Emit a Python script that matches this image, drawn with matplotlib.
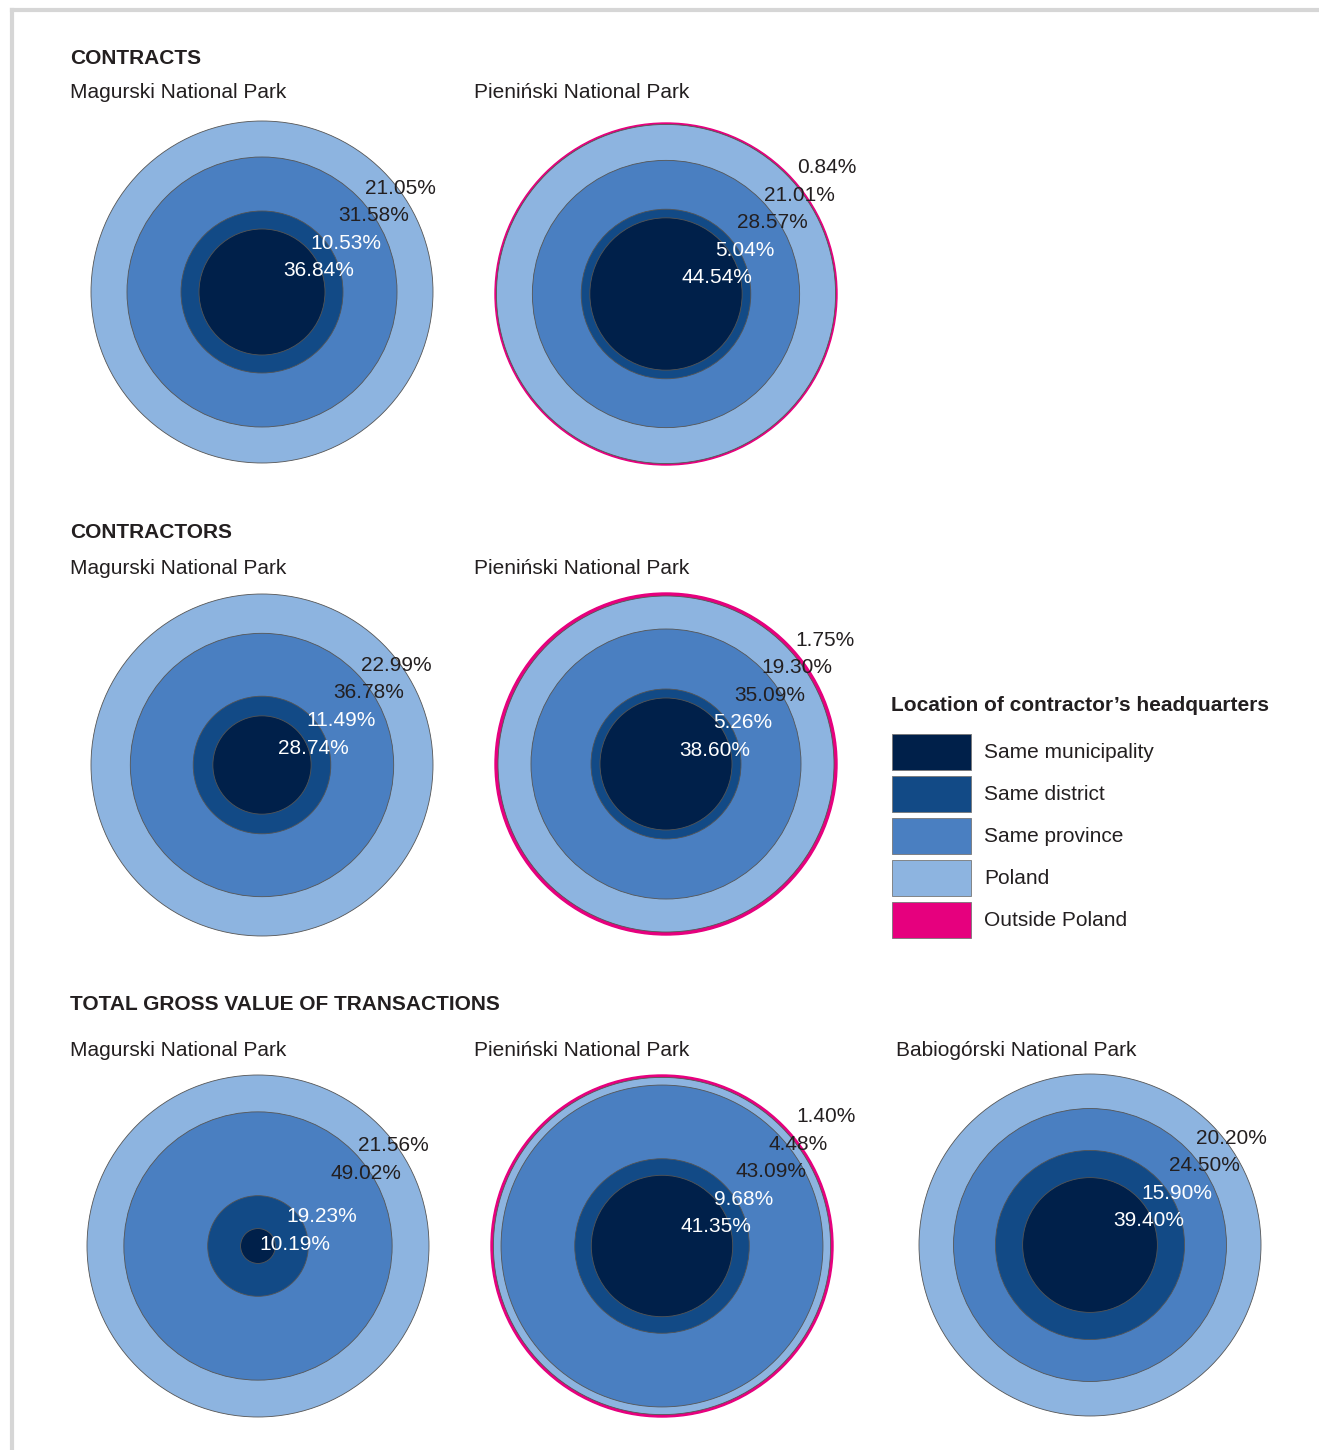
import matplotlib
matplotlib.use("Agg")
import matplotlib.pyplot as plt
from matplotlib.patches import Circle, Rectangle
from matplotlib.lines import Line2D

plt.rcParams["font.family"] = ["Liberation Sans", "DejaVu Sans"]

# data
categories = ["Same municipality", "Same district", "Same province", "Poland", "Outside Poland"]
colors = ["#00204a", "#124a86", "#4a7fc1", "#8db4e0", "#e6007e"]
label_colors = ["white", "white", "#231f20", "#231f20", "#231f20"]

sections = ["CONTRACTS", "CONTRACTORS", "TOTAL GROSS VALUE OF TRANSACTIONS"]
parks = ["Magurski National Park", "Pieniński National Park", "Babiogórski National Park"]

contracts_magurski = [36.84, 10.53, 31.58, 21.05, 0.0]
contracts_pieninski = [44.54, 5.04, 28.57, 21.01, 0.84]
contractors_magurski = [28.74, 11.49, 36.78, 22.99, 0.0]
contractors_pieninski = [38.60, 5.26, 35.09, 19.30, 1.75]
value_magurski = [10.19, 19.23, 49.02, 21.56, 0.0]
value_pieninski = [41.35, 9.68, 43.09, 4.48, 1.40]
value_babiogorski = [39.40, 15.90, 24.50, 20.20, 0.0]

W, H = 1319, 1450
R = 171
TXT = "#231f20"

fig = plt.figure(figsize=(W / 100, H / 100), dpi=100)

# light grey frame on top and left
fig.add_artist(Line2D([12 / W, 12 / W], [0, 1 - 10 / H], transform=fig.transFigure, color="#d6d6d6", lw=3))
fig.add_artist(Line2D([12 / W, 1], [1 - 10 / H, 1 - 10 / H], transform=fig.transFigure, color="#d6d6d6", lw=3))


def fig_text(x, y, s, **kw):
    fig.text(x / W, 1 - y / H, s, va="center", ha="left", color=TXT, fontsize=15, **kw)


def label_heights(radii, gap=27.5 / R, factor=0.6):
    ys = [factor * r for r in radii]
    for _ in range(300):
        for i in range(len(ys) - 1):
            diff = ys[i + 1] - ys[i]
            if diff < gap:
                d = (gap - diff) / 2
                ys[i] -= d
                ys[i + 1] += d
    return ys


def draw_rings(cx, cy, values):
    ax = fig.add_axes([(cx - R) / W, (H - cy - R) / H, 2 * R / W, 2 * R / H])
    ax.set_xlim(-1, 1)
    ax.set_ylim(-1, 1)
    ax.set_aspect("equal")
    ax.axis("off")

    cumulative = []
    total = 0
    for v in values:
        total += v
        cumulative.append(total / 100)

    # outermost first so smaller circles sit on top
    for i in reversed(range(len(values))):
        if values[i] <= 0:
            continue
        if i == 4:
            circ = Circle((0, 0), cumulative[i], facecolor=colors[i], edgecolor=colors[i], lw=1.0)
        else:
            circ = Circle((0, 0), cumulative[i], facecolor=colors[i], edgecolor="#555555", lw=0.6)
        circ.set_clip_on(False)
        ax.add_patch(circ)

    idx = [i for i in range(len(values)) if values[i] > 0]
    ys = label_heights([cumulative[i] for i in idx])
    for i, y in zip(idx, ys):
        ax.text(y + 30 / R, y - 5 / R, f"{values[i]:.2f}%", color=label_colors[i],
                fontsize=15, ha="center", va="center", clip_on=False)


# row 1
fig_text(70, 58, sections[0], fontweight="bold")
fig_text(70, 93, parks[0])
fig_text(474, 93, parks[1])
draw_rings(262, 292, contracts_magurski)
draw_rings(666, 294, contracts_pieninski)

# row 2
fig_text(70, 533, sections[1], fontweight="bold")
fig_text(70, 568, parks[0])
fig_text(474, 568, parks[1])
draw_rings(262, 765, contractors_magurski)
draw_rings(666, 764, contractors_pieninski)

# row 3
fig_text(70, 1004, sections[2], fontweight="bold")
fig_text(70, 1050, parks[0])
fig_text(474, 1050, parks[1])
fig_text(896, 1050, parks[2])
draw_rings(258, 1246, value_magurski)
draw_rings(662, 1246, value_pieninski)
draw_rings(1090, 1245, value_babiogorski)

# legend, drawn in its own pixel-sized axes
lx0, ly0, lw_, lh_ = 880, 690, 420, 260
lax = fig.add_axes([lx0 / W, 1 - (ly0 + lh_) / H, lw_ / W, lh_ / H])
lax.set_xlim(lx0, lx0 + lw_)
lax.set_ylim(ly0 + lh_, ly0)
lax.axis("off")
lax.text(891, 706, "Location of contractor\u2019s headquarters", fontsize=15,
         fontweight="bold", color=TXT, va="center", ha="left")
for k, (name, c) in enumerate(zip(categories, colors)):
    top = 734 + 42 * k
    lax.add_patch(Rectangle((892, top), 79, 36, facecolor=c, edgecolor="#777777", lw=0.6))
    lax.text(984, top + 19, name, fontsize=15, color=TXT, va="center", ha="left")

fig.savefig("out.png", dpi=100)
